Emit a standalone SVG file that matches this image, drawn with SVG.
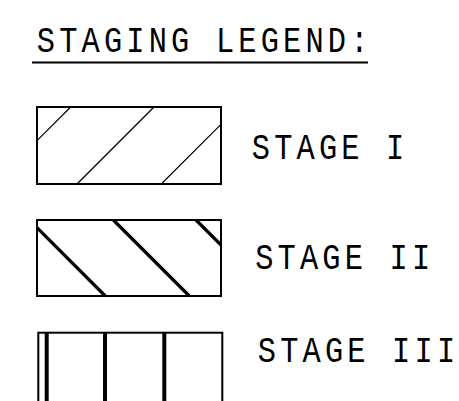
<svg xmlns="http://www.w3.org/2000/svg" width="459" height="401" viewBox="0 0 459 401">
<style>
.box{fill:none;stroke:#000;stroke-width:2}
.t{font-family:"Liberation Mono","DejaVu Sans Mono",monospace;font-size:37px;letter-spacing:5.1px;fill:#000}
.h1{stroke:#000;stroke-width:1.2}
.h2{stroke:#000;stroke-width:3.2}
.h3{stroke:#000;stroke-width:4}
</style>
<rect width="459" height="401" fill="#fff"/>
<g id="title">
<text class="t" transform="translate(36.8,52.3) scale(0.82,1)">STAGING LEGEND:</text>
<line x1="32" y1="62.5" x2="368" y2="62.5" stroke="#000" stroke-width="2"/>
</g>
<g id="stage1">
<line class="h1" x1="70.7" y1="107" x2="37" y2="140.7"/>
<line class="h1" x1="154" y1="107" x2="77" y2="184"/>
<line class="h1" x1="221" y1="124.3" x2="161.3" y2="184"/>
<rect class="box" x="37" y="107" width="184" height="77"/>
<text class="t" transform="translate(251.8,159) scale(0.82,1)">STAGE I</text>
</g>
<g id="stage2">
<line class="h2" x1="37" y1="227.7" x2="105.3" y2="296"/>
<line class="h2" x1="113.3" y1="220" x2="189.3" y2="296"/>
<line class="h2" x1="196" y1="220" x2="221" y2="245"/>
<rect class="box" x="37" y="220" width="184" height="76"/>
<text class="t" transform="translate(255.2,268.6) scale(0.82,1)">STAGE II</text>
</g>
<g id="stage3">
<line class="h3" x1="46.7" y1="333" x2="46.7" y2="410"/>
<line class="h3" x1="105" y1="333" x2="105" y2="410"/>
<line class="h3" x1="164.3" y1="333" x2="164.3" y2="410"/>
<rect class="box" x="38.3" y="332.7" width="184" height="90"/>
<text class="t" transform="translate(257.8,362.3) scale(0.82,1)">STAGE III</text>
</g>
</svg>
